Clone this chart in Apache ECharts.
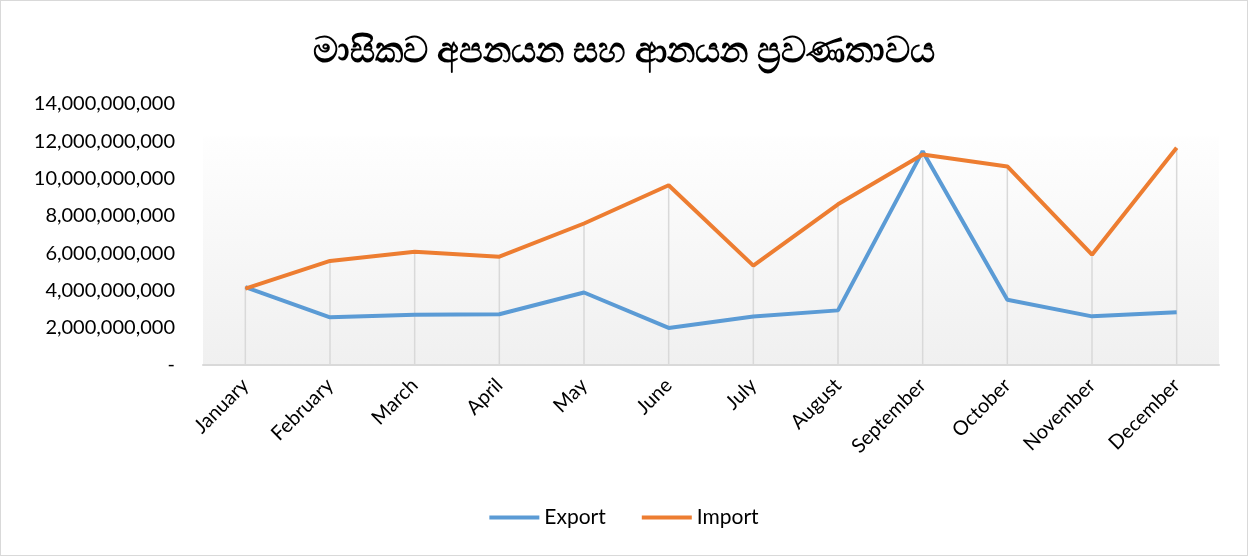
<!DOCTYPE html>
<html>
<head>
<meta charset="utf-8">
<script src="https://cdn.jsdelivr.net/npm/echarts@6/dist/echarts.min.js"></script>
<style>
  html, body { margin: 0; padding: 0; background: #fff; }
  #chart { width: 1248px; height: 556px; box-sizing: border-box; border: 1px solid #d9d9d9; }
</style>
</head>
<body>
<div id="chart"></div>
<script>
const title = 'මාසිකව අපනයන සහ ආනයන ප්‍රවණතාවය';
const months = ['January', 'February', 'March', 'April', 'May', 'June',
  'July', 'August', 'September', 'October', 'November', 'December'];
const exportValues = [4.18e9, 2.56e9, 2.70e9, 2.72e9, 3.89e9, 1.99e9,
  2.60e9, 2.93e9, 11.47e9, 3.50e9, 2.61e9, 2.83e9];
const importValues = [4.10e9, 5.58e9, 6.08e9, 5.81e9, 7.59e9, 9.64e9,
  5.33e9, 8.62e9, 11.29e9, 10.65e9, 5.92e9, 11.65e9];

// drop lines run from the higher of the two points down to the axis
const dropLines = months.map((m, i) => Math.max(exportValues[i], importValues[i]));

const labelFont = 'Lato, "Open Sans", sans-serif';
const chart = echarts.init(document.getElementById('chart'));

chart.setOption({
  animation: false,
  title: {
    text: title,
    left: 'center',
    top: 29,
    padding: [5, 5, 5, 38],
    textStyle: {
      fontSize: 35,
      fontWeight: 'bold',
      color: '#000',
      fontFamily: '"Noto Sans", "DejaVu Sans", sans-serif',
    },
  },
  legend: {
    data: ['Export', 'Import'],
    bottom: 22,
    left: 'center',
    icon: 'rect',
    itemWidth: 50,
    itemHeight: 4,
    itemGap: 36,
    textStyle: { fontSize: 21, color: '#000', fontFamily: labelFont },
  },
  grid: {
    left: 202,
    right: 28,
    top: 103,
    bottom: 190,
    show: true,
    borderWidth: 0,
    backgroundColor: new echarts.graphic.LinearGradient(0, 0, 0, 1, [
      { offset: 0, color: '#ffffff' },
      { offset: 0.12, color: '#ffffff' },
      { offset: 0.13, color: '#fefefe' },
      { offset: 1, color: '#f0f0f0' },
    ]),
  },
  xAxis: {
    type: 'category',
    data: months,
    boundaryGap: true,
    axisLine: { show: true, lineStyle: { color: '#d9d9d9', width: 2 } },
    axisTick: { show: false },
    splitLine: { show: false },
    axisLabel: {
      rotate: 45,
      interval: 0,
      margin: 17,
      fontSize: 20,
      color: '#000',
      fontFamily: labelFont,
    },
  },
  yAxis: {
    type: 'value',
    min: 0,
    max: 14e9,
    interval: 2e9,
    axisLine: { show: false },
    axisTick: { show: false },
    splitLine: { show: false },
    axisLabel: {
      margin: 28,
      fontSize: 20,
      color: '#000',
      fontFamily: labelFont,
      formatter: (v) => (v === 0 ? '-' : v.toLocaleString('en-US')),
    },
  },
  series: [
    {
      name: 'drop',
      type: 'bar',
      data: dropLines,
      barWidth: 1.5,
      silent: true,
      z: 1,
      itemStyle: { color: '#d9d9d9' },
    },
    {
      name: 'Export',
      type: 'line',
      data: exportValues,
      symbol: 'none',
      z: 3,
      itemStyle: { color: '#5b9bd5' },
      lineStyle: { color: '#5b9bd5', width: 4 },
    },
    {
      name: 'Import',
      type: 'line',
      data: importValues,
      symbol: 'none',
      z: 3,
      itemStyle: { color: '#ed7d31' },
      lineStyle: { color: '#ed7d31', width: 4 },
    },
  ],
});
</script>
</body>
</html>
